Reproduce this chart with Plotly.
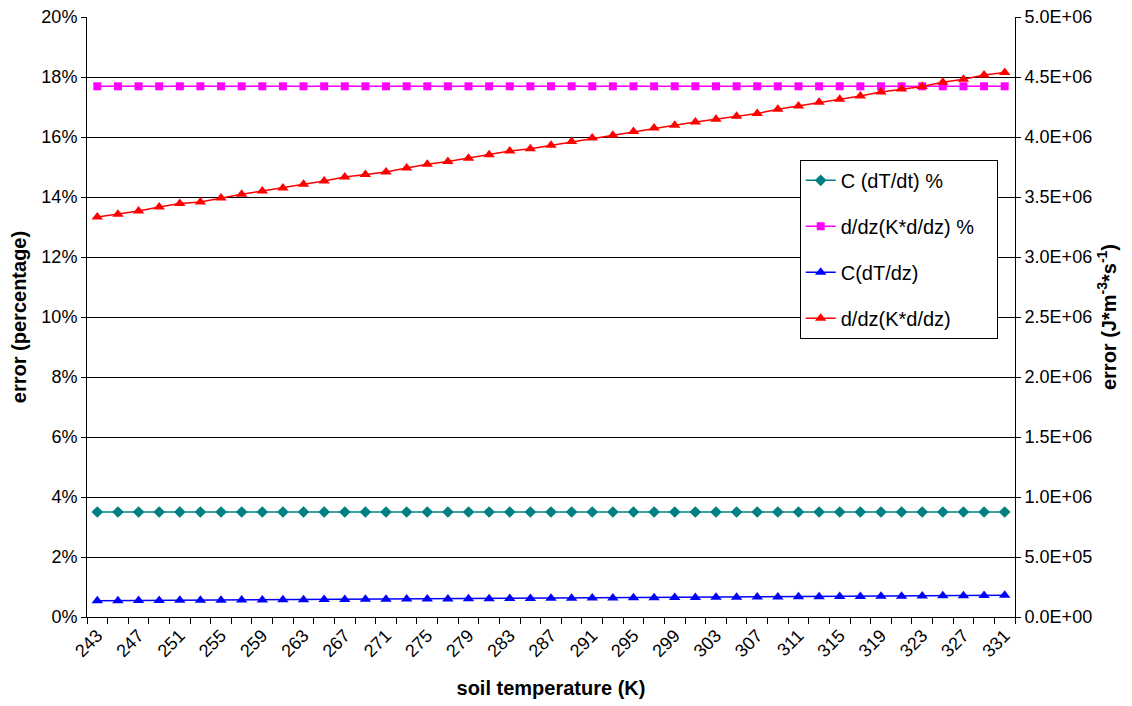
import plotly.graph_objects as go

temps = list(range(243, 333, 2))  # 45 categories
x_labels = list(range(243, 332, 4))

c_dtdt_pct = [3.5] * 45
ddz_pct = [17.69] * 45
c_dtdz = [135000, 136000, 137000, 138000, 139000, 139500, 140500, 141500, 142500, 143500,
          144500, 145500, 146500, 147500, 148000, 149000, 150000, 151000, 152000, 153000,
          154000, 155000, 156000, 157000, 158000, 159000, 160000, 161000, 162000, 163000,
          164000, 165000, 166000, 167000, 168000, 169000, 170000, 171000, 172500, 173500,
          175000, 176500, 178000, 179500, 181000]
ddz = [3.333e6, 3.356e6, 3.383e6, 3.417e6, 3.445e6, 3.458e6, 3.492e6, 3.523e6, 3.550e6, 3.575e6,
       3.606e6, 3.633e6, 3.667e6, 3.687e6, 3.708e6, 3.742e6, 3.773e6, 3.795e6, 3.823e6, 3.853e6,
       3.883e6, 3.903e6, 3.931e6, 3.962e6, 3.992e6, 4.014e6, 4.045e6, 4.075e6, 4.098e6, 4.125e6,
       4.148e6, 4.173e6, 4.195e6, 4.231e6, 4.258e6, 4.289e6, 4.314e6, 4.342e6, 4.375e6, 4.400e6,
       4.420e6, 4.456e6, 4.481e6, 4.517e6, 4.537e6]

left_ticks = list(range(0, 21, 2))
right_ticks = [i * 5e5 for i in range(11)]
right_text = ["0.0E+00", "5.0E+05", "1.0E+06", "1.5E+06", "2.0E+06", "2.5E+06",
              "3.0E+06", "3.5E+06", "4.0E+06", "4.5E+06", "5.0E+06"]

FONT = "Liberation Sans, Arial, sans-serif"
PAD = "\u00a0\u00a0\u00a0"

fig = go.Figure()
fig.add_trace(go.Scatter(x=temps, y=c_dtdt_pct, name="C (dT/dt) %", mode="lines+markers",
                         line=dict(color="#008080", width=1.5),
                         marker=dict(symbol="diamond", size=9, color="#008080"),
                         legendgroup="a"))
fig.add_trace(go.Scatter(x=temps, y=ddz_pct, name="d/dz(K*d/dz) %" + PAD, mode="lines+markers",
                         line=dict(color="#FF00FF", width=1.5),
                         marker=dict(symbol="square", size=8, color="#FF00FF"),
                         legendgroup="b"))
fig.add_trace(go.Scatter(x=temps, y=c_dtdz, name="C(dT/dz)", mode="lines+markers",
                         line=dict(color="#0000FF", width=1.5),
                         marker=dict(symbol="triangle-up", size=10, color="#0000FF"),
                         yaxis="y2", legendgroup="c"))
fig.add_trace(go.Scatter(x=temps, y=ddz, name="d/dz(K*d/dz)", mode="lines+markers",
                         line=dict(color="#FF0000", width=1.5),
                         marker=dict(symbol="triangle-up", size=10, color="#FF0000"),
                         yaxis="y2", legendgroup="d"))

fig.update_layout(
    width=1132, height=706,
    margin=dict(l=79, r=125, t=9, b=97, autoexpand=False),
    paper_bgcolor="white", plot_bgcolor="white",
    font=dict(family=FONT, size=18, color="black"),
    showlegend=True,
    legend=dict(x=0.768, y=0.762, xanchor="left", yanchor="top",
                bordercolor="black", borderwidth=1, bgcolor="white",
                font=dict(size=20), tracegroupgap=17),
    xaxis=dict(range=[242, 332], tickmode="array", tickvals=x_labels,
               ticktext=[str(v) for v in x_labels], tickangle=-45, ticks="",
               showgrid=False, showline=True, linecolor="black", linewidth=1,
               zeroline=False, tickfont=dict(size=18), automargin=False,
               ticklabeloverflow="allow",
               minor=dict(tick0=242, dtick=2, ticks="outside", ticklen=6,
                          tickcolor="black", showgrid=False),
               title=dict(text="<b>soil temperature (K)</b>", font=dict(size=20), standoff=20)),
    yaxis=dict(range=[0, 20], tickmode="array", tickvals=left_ticks,
               ticktext=[f"{v}%" for v in left_ticks], ticks="outside", ticklen=5,
               tickcolor="black", showgrid=True, gridcolor="black", gridwidth=1,
               showline=True, linecolor="black", linewidth=1, zeroline=False,
               tickfont=dict(size=18), automargin=False, ticklabeloverflow="allow",
               title=dict(text="<b>error (percentage)</b>", font=dict(size=20), standoff=10)),
    yaxis2=dict(range=[0, 5e6], overlaying="y", side="right", tickmode="array",
                tickvals=right_ticks, ticktext=right_text, ticks="outside", ticklen=5,
                tickcolor="black", showgrid=False, showline=True, linecolor="black",
                linewidth=1, zeroline=False, tickfont=dict(size=18), automargin=False,
                ticklabeloverflow="allow",
                title=dict(text="<b>error (J*m<sup>-3</sup>*s<sup>-1</sup>)</b>",
                           font=dict(size=20), standoff=10)),
)

fig.write_html("out.html")
